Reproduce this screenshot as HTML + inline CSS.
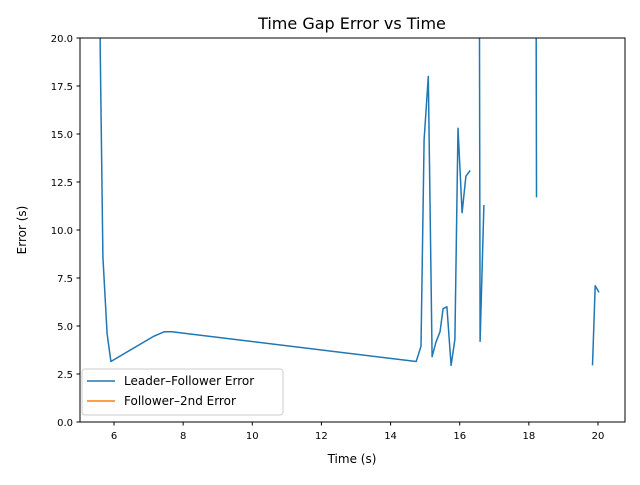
<!DOCTYPE html>
<html><head><meta charset="utf-8"><style>
body{margin:0;background:#fff;font-family:"Liberation Sans","DejaVu Sans",sans-serif}
svg text{font-family:"DejaVu Sans","Liberation Sans",sans-serif}
</style></head><body>
<svg id="chart" width="640" height="480" xmlns="http://www.w3.org/2000/svg">
<rect width="640" height="480" fill="#fff"/>
<defs><clipPath id="clip"><rect x="80" y="38" width="545" height="384"/></clipPath></defs>
<text x="352" y="29" font-size="16" text-anchor="middle">Time Gap Error vs Time</text>
<g id="grid"></g>
<g id="series" clip-path="url(#clip)"></g>
<rect x="80" y="38" width="545" height="384" fill="none" stroke="#000" stroke-width="1"/>
<g id="axes"></g>
<text x="352" y="463" font-size="12" text-anchor="middle">Time (s)</text>
<text transform="translate(26,230) rotate(-90)" font-size="12" text-anchor="middle">Error (s)</text>
<g>
<rect x="82" y="369" width="201" height="46" rx="3" fill="#fff" fill-opacity="0.8" stroke="#ccc"/>
<line x1="87" y1="381" x2="115" y2="381" stroke="#1f77b4" stroke-width="1.5"/>
<text x="124" y="385" font-size="12">Leader–Follower Error</text>
<line x1="87" y1="401" x2="115" y2="401" stroke="#ff7f0e" stroke-width="1.5"/>
<text x="124" y="405" font-size="12">Follower–2nd Error</text>
</g>
</svg>
<script>
const xTicks=[6,8,10,12,14,16,18,20];
const yTicks=[0,2.5,5,7.5,10,12.5,15,17.5,20];
const yTickLabels=["0.0","2.5","5.0","7.5","10.0","12.5","15.0","17.5","20.0"];
const lfTime=[5.57,5.6,5.68,5.80,5.91,7.13,7.45,7.68,7.91,14.74,14.88,14.97,15.09,15.2,15.31,15.43,15.52,15.63,15.75,15.86,15.95,16.07,16.18,16.30,null,16.56,16.59,16.70,null,18.2,18.22,null,19.84,19.92,20.03];
const lfError=[30,19.5,8.6,4.6,3.15,4.45,4.7,4.7,4.65,3.15,3.95,14.7,18.0,3.4,4.15,4.7,5.9,6.0,2.95,4.3,15.3,10.9,12.8,13.1,null,30,4.2,11.3,null,30,11.7,null,2.95,7.1,6.75];
const f2Time=[];
const f2Error=[];
const xs=v=>114+(v-6)*34.571;
const ys=v=>422-v*19.2;
const NS="http://www.w3.org/2000/svg";
const axes=document.getElementById('axes');
function mk(tag,attrs,parent){const e=document.createElementNS(NS,tag);for(const k in attrs)e.setAttribute(k,attrs[k]);parent.appendChild(e);return e;}
xTicks.forEach(t=>{
 const l=mk('line',{x1:xs(t),x2:xs(t),y1:422,y2:425.5,stroke:'#000'},axes);
 
 
 const tx=mk('text',{x:xs(t),y:439,'font-size':10,'text-anchor':'middle'},axes);tx.textContent=t;
 
 
});
yTicks.forEach((t,i)=>{
 const l=mk('line',{x1:76.5,x2:80,y1:ys(t),y2:ys(t),stroke:'#000'},axes);
 
 
 const tx=mk('text',{x:73,y:ys(t)+4,'font-size':10,'text-anchor':'end'},axes);tx.textContent=yTickLabels[i];
 
 
});
function path(tA,eA){let d='',pen=false;for(let i=0;i<tA.length;i++){if(tA[i]===null||eA[i]===null){pen=false;continue;}d+=(pen?'L':'M')+xs(tA[i]).toFixed(1)+','+ys(eA[i]).toFixed(1);pen=true;}return d;}
const s=document.getElementById('series');
const p1=mk('path',{d:path(lfTime,lfError),fill:'none',stroke:'#1f77b4','stroke-width':1.5,'stroke-linejoin':'round'},s);


const p2=mk('path',{d:path(f2Time,f2Error),fill:'none',stroke:'#ff7f0e','stroke-width':1.5},s);


</script>
</body></html>
